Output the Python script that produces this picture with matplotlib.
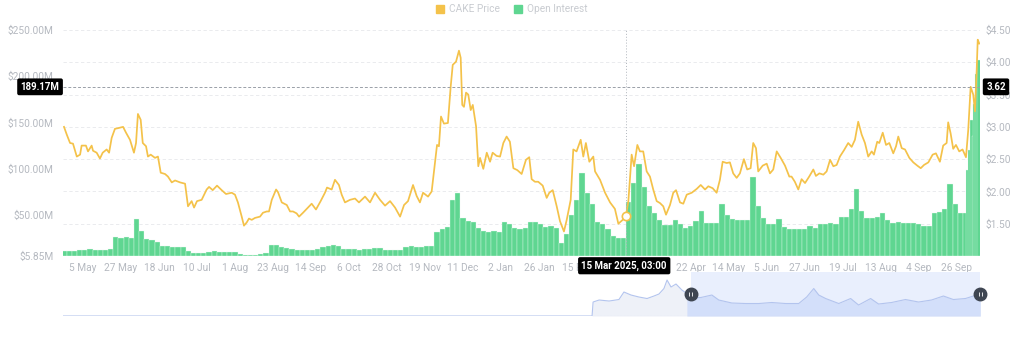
import numpy as np
import matplotlib.pyplot as plt
import matplotlib.transforms as mtransforms
from matplotlib.patches import Patch

plt.rcParams['font.family'] = ['Roboto', 'DejaVu Sans']

# day 0 = 5 May 2024 (the 9 Mar / 31 Mar labels sit under the tooltip, so left blank)
tick_days = [0, 22, 44, 66, 88, 110, 132, 154, 176, 198, 220, 242, 264, 286, 308, 330,
             352, 374, 396, 418, 440, 462, 484, 506]
tick_labels = ['5 May', '27 May', '18 Jun', '10 Jul', '1 Aug', '23 Aug', '14 Sep', '6 Oct',
               '28 Oct', '19 Nov', '11 Dec', '2 Jan', '26 Jan', '15 Feb', '', '',
               '22 Apr', '14 May', '5 Jun', '27 Jun', '19 Jul', '13 Aug', '4 Sep', '26 Sep']

# CAKE price
price_day = [-11.0, -9.4, -7.5, -5.8, -3.6, -1.7, -0.8, 1.7, 2.9, 5.0, 5.8, 7.9, 9.8, 11.4, 13.7,
             15.1, 16.6, 18.5, 20.3, 23.2, 24.9, 27.2, 29.5, 30.7, 31.8, 33.4, 34.6, 36.5, 37.6,
             39.2, 41.7, 43.4, 45.0, 47.5, 49.2, 51.4, 53.3, 56.2, 59.1, 60.8, 62.9, 64.3, 66.0,
             68.7, 71.6, 73.0, 75.1, 77.6, 80.3, 82.8, 86.1, 88.0, 89.7, 91.9, 93.2, 94.8, 96.1,
             97.7, 99.6, 102.5, 104.2, 106.4, 107.7, 109.3, 111.8, 112.9, 115.1, 118.0, 119.9,
             121.6, 123.7, 125.1, 127.4, 130.3, 132.4, 134.9, 137.6, 140.1, 141.3, 144.0, 145.9,
             148.2, 149.8, 151.7, 154.6, 157.5, 159.8, 163.3, 166.2, 169.1, 172.0, 174.9, 177.8,
             180.7, 183.6, 185.9, 188.2, 191.1, 193.2, 195.1, 196.9, 199.8, 201.9, 203.8, 205.0,
             206.1, 207.3, 209.0, 211.3, 212.9, 214.1, 216.0, 217.7, 218.7, 219.6, 220.6, 221.8,
             223.1, 224.5, 225.7, 227.6, 228.9, 229.9, 231.8, 233.8, 235.7, 237.2, 239.5, 241.5,
             243.4, 245.3, 247.2, 249.2, 251.5, 254.0, 256.5, 258.4, 259.8, 261.7, 263.6, 266.2,
             268.5, 270.0, 272.0, 274.3, 276.2, 278.5, 280.1, 282.4, 283.9, 285.8, 288.2, 289.7,
             291.2, 293.2, 295.5, 296.5, 299.4, 302.3, 305.2, 308.0, 310.0, 312.5, 314.4, 315.8,
             317.7, 319.1, 321.0, 322.5, 324.4, 326.4, 328.3, 330.2, 332.2, 334.1, 336.0, 337.6,
             339.9, 341.8, 343.4, 345.7, 347.6, 349.6, 352.5, 355.4, 357.7, 360.2, 362.1, 364.6,
             366.9, 368.8, 370.4, 372.7, 374.6, 376.5, 378.5, 380.4, 382.7, 384.6, 386.6, 388.1,
             389.7, 391.0, 393.6, 395.9, 397.8, 399.7, 401.7, 404.0, 406.5, 409.0, 410.3, 412.2,
             414.2, 416.1, 418.1, 420.5, 422.9, 424.4, 426.4, 428.7, 430.6, 432.6, 434.5, 436.4,
             438.3, 440.7, 443.1, 445.1, 447.0, 448.9, 450.9, 452.8, 454.7, 456.7, 458.0, 459.9,
             461.1, 463.1, 465.0, 466.9, 469.2, 470.8, 472.1, 474.1, 476.0, 478.5, 480.8, 483.1,
             485.1, 487.0, 489.5, 492.0, 493.9, 496.2, 498.1, 500.1, 501.0, 502.4, 503.9, 505.5,
             507.4, 509.3, 511.3, 512.6, 514.0, 515.5, 516.5, 517.5, 518.1, 519.0]
price_val = [3.00, 2.88, 2.75, 2.74, 2.54, 2.57, 2.71, 2.71, 2.62, 2.71, 2.63, 2.60, 2.51, 2.60, 2.65,
             2.60, 2.83, 2.97, 2.98, 3.00, 2.91, 2.80, 2.60, 2.75, 3.20, 3.11, 2.75, 2.70, 2.54,
             2.57, 2.52, 2.54, 2.29, 2.27, 2.23, 2.14, 2.17, 2.14, 2.12, 1.77, 1.85, 1.75, 1.85,
             1.87, 2.03, 2.07, 2.02, 2.09, 2.02, 1.96, 1.98, 1.95, 1.83, 1.61, 1.47, 1.52, 1.58,
             1.56, 1.59, 1.61, 1.67, 1.69, 1.69, 1.87, 2.03, 1.99, 1.83, 1.79, 1.69,
             1.69, 1.66, 1.61, 1.67, 1.75, 1.81, 1.72, 1.85, 1.98, 2.06, 2.03, 2.18,
             2.10, 1.95, 1.83, 1.87, 1.89, 1.83, 1.92, 1.83, 1.98, 1.87, 1.78, 1.85,
             1.75, 1.61, 1.79, 1.85, 2.10, 1.93, 1.83, 1.98, 1.92, 2.00, 2.44, 2.72,
             2.70, 3.16, 3.05, 3.06, 3.62, 3.96, 4.01, 4.18, 4.07, 3.34, 3.31, 3.53,
             3.50, 3.26, 3.34, 3.01, 2.39, 2.52, 2.35, 2.60, 2.46, 2.60, 2.55, 2.54,
             2.75, 2.85, 2.77, 2.36, 2.33, 2.27, 2.49, 2.53, 2.19, 2.15, 2.15, 2.09,
             1.90, 1.98, 2.02, 1.77, 1.54, 1.38, 1.56, 1.87, 2.65, 2.62, 2.80, 2.54,
             2.75, 2.46, 2.54, 2.31, 2.18, 1.98, 1.83, 1.73, 1.50, 1.56, 1.62, 1.85,
             2.57, 2.39, 2.72, 2.62, 2.62, 2.31, 2.23, 2.03, 1.85, 1.82, 1.77, 1.64,
             1.79, 1.98, 2.02, 1.83, 1.81, 1.95, 1.98, 2.04, 2.10, 2.03, 2.08, 2.05,
             1.98, 2.18, 2.46, 2.44, 2.45, 2.28, 2.21, 2.28, 2.50, 2.34, 2.36, 2.75,
             2.67, 2.31, 2.40, 2.43, 2.28, 2.34, 2.62, 2.52, 2.40, 2.23, 2.23, 2.15,
             2.03, 2.19, 2.13, 2.23, 2.34, 2.24, 2.28, 2.26, 2.31, 2.49, 2.39, 2.41,
             2.54, 2.64, 2.75, 2.69, 2.80, 3.08, 2.88, 2.75, 2.54, 2.62, 2.57, 2.77,
             2.75, 2.91, 2.72, 2.75, 2.59, 2.70, 2.85, 2.67, 2.65, 2.52, 2.45, 2.40,
             2.36, 2.41, 2.45, 2.57, 2.59, 2.46, 2.71, 2.75, 3.07, 2.90, 2.66, 2.72,
             2.62, 2.65, 2.53, 2.95, 3.62, 3.50, 3.24, 3.88, 4.35, 4.29]

# Open interest, $M
oi_day = list(range(-11, 509, 3)) + [511, 513, 514, 515, 516, 517, 518, 519]
oi_val = [11.6, 11.6, 11.8, 12, 12.3, 13, 12.5, 12.3, 12.8, 13.5, 26.7, 25.5, 26, 25, 46, 33,
          24.5, 23.5, 21.3, 17, 16.5, 16, 15.5, 15.5, 11, 9.3, 9.3, 9.5, 10.5, 10.8, 10.5, 9.8,
          10.5, 10.2, 7.5, 6.8, 6.5, 7, 8.5, 9.5, 17.7, 17.5, 15.5, 14.5, 13.5, 12.5, 12.3, 12.5,
          12.3, 13, 15.5, 16.5, 18, 16.5, 13.5, 13, 13, 12.5, 13, 13.5, 15, 14.5, 12.5, 12.3,
          12.3, 12.8, 16, 16.5, 16, 15.5, 16.5, 17, 32, 35, 37.5, 66, 74, 46.6, 43.5, 43,
          36, 33, 32, 33, 32, 43, 40, 35.8, 35.5, 36, 42.6, 42.5, 40, 37, 38, 36,
          20, 30, 50, 66, 95, 74, 62, 43, 40, 35, 27, 25, 25, 64.5, 85, 105,
          80, 60, 52, 45, 39, 39, 44.7, 40, 36, 38, 44, 55, 42, 41, 42, 62,
          50, 46, 45, 44.7, 44.7, 91.5, 60, 47, 40, 40, 46, 37, 35, 35, 34.5, 35,
          38, 36, 40, 40, 41, 40, 48, 48.5, 57, 78, 55, 47, 47, 48, 52, 45,
          42, 43, 42, 41, 41, 40, 38, 38, 52, 53, 57, 84, 62, 52,
          52, 99, 120, 153, 135, 170, 203, 218]

# navigator (overview) series
nav_day = [-11.6, 295.3, 295.9, 299.4, 305.2, 310.9, 313.8, 317.9, 322.5, 327.2, 331.2, 334.1,
           337.0, 338.8, 341.1, 344.0, 347.4, 350.3, 354.4, 358.4, 364.8, 368.8, 376.4, 384.5,
           392.0, 399.5, 407.6, 415.2, 419.8, 423.9, 426.8, 430.8, 438.4, 445.3, 449.9, 456.9,
           461.5, 469.0, 477.1, 484.7, 492.2, 499.1, 504.9, 511.9, 516.5, 520.5]
nav_val = [0, 0, 14, 16, 15, 16.5, 24, 21, 19, 17.5, 20, 22, 27.5, 36, 29, 32, 26, 22.5, 18.5,
           18.5, 21, 16, 13, 12.5, 12.5, 13.5, 12.5, 12.5, 19, 27.5, 21, 17.5, 12.5, 17.5, 11,
           17.5, 12, 13.5, 16.5, 14, 16, 20, 16.5, 17.5, 20, 21]
nav_sel = [352.5, 520.5]

cursor_day = 314.4
cursor_price = 3.62

grey = '#b5b9c0'
yellow = '#f4c24a'
green = '#5fd691'

fig = plt.figure(figsize=(10.24, 3.39), dpi=100)
ax = fig.add_axes([0.0615, 0.2448, 0.8955, 0.6667])
ax2 = ax.twinx()

xlim = (-11.6, 519.4)
oi_lim = (5.85, 250)
price_lim = (1.0, 4.5)
price_ticks = [1.5, 2.0, 2.5, 3.0, 3.5, 4.0, 4.5]

# gridlines follow the price ticks, drawn under the bars
for t in price_ticks:
    frac = (t - price_lim[0]) / (price_lim[1] - price_lim[0])
    ax.axhline(oi_lim[0] + frac * (oi_lim[1] - oi_lim[0]), color='#e6e8eb',
               lw=0.6, ls=(0, (4, 3)), zorder=0)

ax.bar(oi_day, np.array(oi_val) - oi_lim[0], bottom=oi_lim[0], width=3.0,
       color=green, edgecolor='#e9f9ef', linewidth=0.25, zorder=2)
ax.set_xlim(*xlim)
ax.set_ylim(*oi_lim)
ax.set_yticks([5.85, 50, 100, 150, 200, 250])
ax.set_yticklabels(['$5.85M', '$50.00M', '$100.00M', '$150.00M', '$200.00M', '$250.00M'])
ax.set_xticks(tick_days)
ax.set_xticklabels(tick_labels)

ax2.plot(price_day, price_val, color=yellow, lw=1.25, zorder=3)
ax2.set_ylim(*price_lim)
ax2.set_yticks(price_ticks)
ax2.set_yticklabels(['$%.2f' % t for t in price_ticks])

for a in (ax, ax2):
    for s in a.spines.values():
        s.set_visible(False)
    a.tick_params(length=0, colors=grey, labelsize=7.3)
ax.tick_params(axis='y', pad=7)
ax.tick_params(axis='x', pad=5)
ax2.tick_params(axis='y', pad=4)

# crosshair
ax2.axhline(cursor_price, color='#9aa0a8', lw=0.7, ls=(0, (3, 2)), zorder=4)
ax2.axvline(cursor_day, color='#b0b5bc', lw=0.7, ls=(0, (1, 2)), zorder=4)
ax2.plot([cursor_day], [1.62], marker='o', ms=6, mfc='white', mec=yellow, mew=1.2, zorder=5)

box = dict(boxstyle='round,pad=0.35,rounding_size=0.2', fc='black', ec='none')
tr_y = mtransforms.blended_transform_factory(ax2.transAxes, ax2.transData)
ax2.text(-0.025, cursor_price, '189.17M', transform=tr_y, ha='center', va='center',
         color='white', fontsize=7, fontweight='bold', bbox=box, zorder=10, clip_on=False)
ax2.text(1.0175, cursor_price, '3.62', transform=tr_y, ha='center', va='center',
         color='white', fontsize=7, fontweight='bold', bbox=box, zorder=10, clip_on=False)
tr_x = mtransforms.blended_transform_factory(ax2.transData, ax2.transAxes)
ax2.text(cursor_day - 1, -0.043, '15 Mar 2025, 03:00', transform=tr_x, ha='center', va='center',
         color='white', fontsize=7, fontweight='bold', bbox=box, zorder=10, clip_on=False)

# legend
handles = [Patch(color=yellow, label='CAKE Price'), Patch(color=green, label='Open Interest')]
leg = fig.legend(handles=handles, loc='center', bbox_to_anchor=(0.5, 0.972), ncol=2,
                 frameon=False, fontsize=7.3, handlelength=0.8, handleheight=0.8,
                 handletextpad=0.5, columnspacing=1.4)
for t in leg.get_texts():
    t.set_color('#c9ccd1')

# navigator
nav = fig.add_axes([0.0615, 0.0678, 0.8975, 0.1298])
nav.set_xlim(-11.6, 521.5)
nav.set_ylim(0, 44)
nav.axvspan(nav_sel[0], nav_sel[1], color='#e9effd', lw=0, zorder=0)
nx = np.array(nav_day)
nv = np.array(nav_val)
nav.fill_between(nx, 0, nv, color='#eef1f8', lw=0, zorder=1)
nav.fill_between(nx, 0, nv, where=nx >= nav_sel[0] - 4, color='#d3dffa', lw=0, zorder=2,
                 interpolate=True)
nav.plot(nx, nv, color='#b3c4ee', lw=0.8, zorder=3)
nav.plot(xlim, [0, 0], color='#d5dae6', lw=0.8, ls=(0, (2, 1)), zorder=3)
for d in nav_sel:
    nav.plot([d], [22], marker='o', ms=9, color='#3f4652', zorder=5, clip_on=False)
    nav.plot([d - 0.8, d + 0.8], [22, 22], ls='none', marker='|', ms=3, color='white',
             mew=0.6, zorder=6, clip_on=False)
nav.axis('off')

fig.savefig('out.png', dpi=100)
